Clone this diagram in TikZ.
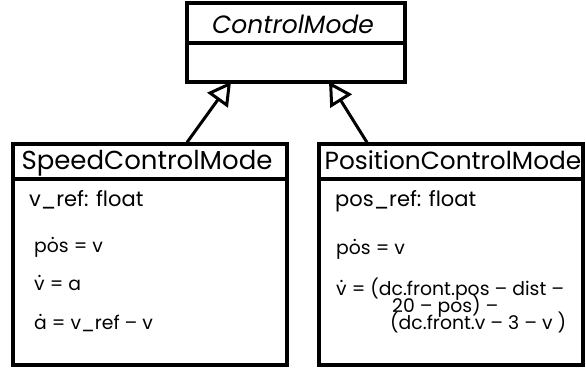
\documentclass[tikz,border=0pt]{standalone}
\usepackage{fontspec}
\setmainfont{Poppins}
\usetikzlibrary{arrows.meta}

% dot placed over a character (time derivative)
\newcommand\tdot[1]{{\ooalign{#1\cr\hidewidth\raisebox{0.68em}{.}\hidewidth\cr}}}

\tikzset{
  umlbox/.style={draw, line width=3.2pt, inner sep=0pt},
  divider/.style={line width=3.2pt},
  titletext/.style={anchor=base, inner sep=0pt, font=\fontsize{26}{26}\selectfont},
  attrtext/.style={anchor=base west, inner sep=0pt, font=\fontsize{21}{21}\selectfont},
  eqtext/.style={anchor=base west, inner sep=0pt, font=\fontsize{18.8}{18.8}\selectfont},
  inherit/.style={line width=3pt, -{Triangle[open, length=23pt, width=25pt, line width=3pt]}}
}

\begin{document}
\begin{tikzpicture}[x=1pt, y=-1pt]
\useasboundingbox (0,0) rectangle (586,368);

% abstract base class
\node[umlbox, minimum width=218pt, minimum height=79pt] (cm) at (296,42.5) {};
\draw[divider] (cm.west |- 0,43) -- (cm.east |- 0,43);
\node[titletext, font=\fontsize{25}{25}\selectfont\itshape] (cmt) at (293,33) {ControlMode};

% speed control subclass
\node[umlbox, minimum width=274pt, minimum height=221pt] (scm) at (150,254.5) {};
\draw[divider] (scm.west |- 0,179) -- (scm.east |- 0,179);
\node[titletext] (scmt) at (147,169) {SpeedControlMode};
\node[attrtext] (s1) at (29,206) {v\_ref: float};
\node[eqtext] (s2) at (34,252) {p\tdot{o}s = v};
\node[eqtext] (s3) at (34,290) {\tdot{v} = a};
\node[eqtext] (s4) at (34,329) {\tdot{a} = v\_ref – v};

% position control subclass
\node[umlbox, minimum width=264pt, minimum height=221pt] (pcm) at (451,254.5) {};
\draw[divider] (pcm.west |- 0,179) -- (pcm.east |- 0,179);
\node[titletext, font=\fontsize{24.8}{24.8}\selectfont] (pcmt) at (453,169) {PositionControlMode};
\node[attrtext] (p1) at (335,206) {pos\_ref: float};
\node[eqtext] (p2) at (336,254) {p\tdot{o}s = v};
\node[eqtext] (p3) at (336,295) {\tdot{v} = (dc.front.pos – dist –};
\node[eqtext] (p4) at (392,312) {20 – pos) –};
\node[eqtext] (p5) at (390,329) {(dc.front.v – 3 – v )};

% generalisation arrows
\draw[inherit] ([xshift=37pt]scm.north) -- ([xshift=-65pt, yshift=2pt]cm.south);
\draw[inherit] ([xshift=-84pt]pcm.north) -- ([xshift=33pt, yshift=2pt]cm.south);
\end{tikzpicture}
\end{document}
